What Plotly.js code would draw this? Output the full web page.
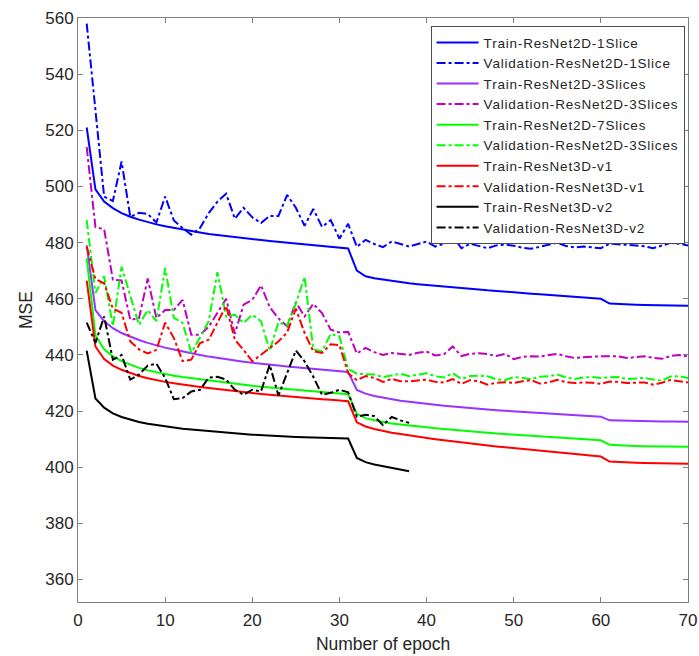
<!DOCTYPE html>
<html>
<head>
<meta charset="utf-8">
<script src="https://cdn.plot.ly/plotly-3.0.1.min.js"></script>
<style>html,body{margin:0;padding:0;background:#fff;}#chart{width:699px;height:656px;}
text.legendtext{letter-spacing:0.8px;}</style>
</head>
<body>
<div id="chart"></div>
<script>
var epochs = [];
for (var i = 1; i <= 70; i++) epochs.push(i);
var epochsV2 = epochs.slice(0, 38);

var trainR2D1 = [521,499,494.6,492.3,490.5,489.2,488.2,487.3,486.5,485.8,485.2,484.6,484.1,483.6,483.1,482.7,482.3,481.9,481.5,481.2,480.9,480.6,480.3,480.0,479.7,479.4,479.1,478.8,478.5,478.2,477.9,470,468,467.3,466.8,466.3,465.9,465.5,465.2,464.9,464.6,464.3,464.0,463.8,463.5,463.3,463.0,462.8,462.5,462.3,462.1,461.8,461.6,461.4,461.1,460.9,460.7,460.5,460.3,460.0,458.3,458.1,458.0,457.9,457.8,457.7,457.7,457.6,457.6,457.5];
var valR2D1 = [558,528,496.4,494.8,508.9,489.2,490.6,490.2,487.2,496.4,487.9,485.2,482.8,485.2,490.5,494.6,497.4,488.5,492.4,489,487,489.5,489.5,497,492.4,486,492,485.6,488,481.4,486.7,478.5,481,479.5,478.4,480.4,479.5,478.6,479.5,480.4,478.6,479.6,482.2,478,479.6,478.8,478,479,479.3,478.9,478.2,477.8,478.5,479.3,480,478.8,478.3,478.6,478.3,478,479.6,479.5,479.2,479,478.7,478,478.9,479.9,479.6,479];
var trainR2D3 = [479,456,452,449.5,447.8,446.5,445.3,444.3,443.4,442.6,441.9,441.2,440.6,440.0,439.4,438.9,438.4,438.0,437.6,437.2,436.8,436.5,436.2,435.9,435.6,435.3,435.0,434.7,434.4,434.1,433.9,427.5,426.2,425.4,424.8,424.2,423.7,423.3,422.9,422.5,422.2,421.9,421.6,421.3,421.0,420.8,420.5,420.3,420.1,419.9,419.7,419.5,419.3,419.1,418.9,418.7,418.5,418.3,418.2,418.0,416.7,416.6,416.5,416.5,416.4,416.4,416.3,416.3,416.2,416.2];
var valR2D3 = [514,485.5,484.8,466.8,466.5,452.5,453.1,467.2,453.1,456,456,459.6,447.2,447.2,450,455,460,447.5,457.9,459.6,464.8,457,453,450.2,458.8,453.7,458.2,454.9,449,448,448.2,440.5,442.5,441,440,440.7,440.3,440,440.8,441.2,439.8,440.2,443,439.6,440.4,440.6,440.3,439.6,440.4,438.5,439.3,439.5,439.4,439.8,440.4,439.5,438.9,439.2,439.4,439.5,439.5,439.5,438.9,439.2,439.5,439.0,438.6,439.6,440,439.5];
var trainR2D7 = [474.5,447,442,439.5,437.8,436.5,435.4,434.5,433.8,433.2,432.6,432.1,431.7,431.2,430.8,430.4,430.0,429.6,429.3,429.0,428.7,428.4,428.1,427.8,427.5,427.3,427.0,426.8,426.5,426.3,426.0,419,417.5,416.7,416.1,415.6,415.2,414.8,414.5,414.2,413.9,413.6,413.3,413.0,412.8,412.5,412.3,412.0,411.8,411.6,411.4,411.2,411.0,410.8,410.6,410.4,410.2,410.0,409.8,409.6,408.0,407.8,407.7,407.6,407.5,407.5,407.4,407.4,407.4,407.3];
var valR2D7 = [488,462,468,450.3,471.4,461.4,450.7,456,452,471,453.2,451.4,440.8,446.2,452,469.5,453.7,454.3,451.4,454.3,452,441.5,451.6,450.5,458.3,467.8,442,441.3,447.5,446.6,435,433.3,433.2,433.0,432.1,432.6,433.3,432.4,433,433.5,432.4,432,433.5,431.4,432.5,432.6,432.4,431.3,431,432.1,431.8,431.4,432.2,432.4,433,432,431.4,432,432.1,431.8,432,432.1,431.4,431.6,431.8,431.2,430.8,432.3,432.4,431.8];
var trainR3D1 = [466.5,443,438.5,436.2,434.7,433.5,432.5,431.7,431.0,430.4,429.9,429.4,429.0,428.6,428.2,427.8,427.4,427.0,426.7,426.4,426.1,425.8,425.5,425.2,425.0,424.7,424.4,424.2,424.0,423.7,423.5,416,414.5,413.6,412.9,412.3,411.8,411.3,410.9,410.5,410.0,409.6,409.2,408.8,408.4,408.0,407.7,407.4,407.1,406.8,406.5,406.2,405.9,405.6,405.3,405.0,404.7,404.4,404.1,403.8,402.0,401.8,401.7,401.6,401.5,401.4,401.4,401.3,401.3,401.2];
var valR3D1 = [478.6,467,465.5,456.5,455,444.8,442,440.5,441.8,451.5,446,437.8,438.3,444.2,445.4,451.5,457.5,445.4,441.8,437.7,440,442.3,444.8,448,456.5,447.8,441.3,440.7,443.8,443.5,433.5,431,432.5,431.8,430.4,431.5,430.6,430.6,431,431.2,430.4,430.2,431.4,429.7,431.0,430.6,429.4,430.1,430.3,430,430.6,431,429.8,430.2,431.1,430.3,430,430.2,430.1,429.7,430.5,430.4,430,430.1,430.2,429.4,430.1,431.1,430.7,430.2];
var trainR3D2 = [441.5,424.5,421.2,419.2,417.9,416.9,416.1,415.5,415.0,414.5,414.1,413.7,413.4,413.1,412.8,412.5,412.2,412.0,411.8,411.6,411.4,411.2,411.0,410.9,410.8,410.7,410.6,410.5,410.4,410.3,410.2,403.3,401.8,401.0,400.4,399.9,399.2,398.6];
var valR3D2 = [451.5,444.3,453.7,438.3,440,431.2,433,436.2,436.9,431.8,424.2,424.6,427,427.6,431.9,432.2,431.2,427.6,425.8,427.6,427,436.5,425.5,433.5,441.6,437.7,432.2,425.8,426.5,427.6,426.7,418,418.7,418.2,415,417.9,416.7,415.8];

var names = ['Train-ResNet2D-1Slice','Validation-ResNet2D-1Slice','Train-ResNet2D-3Slices','Validation-ResNet2D-3Slices','Train-ResNet2D-7Slices','Validation-ResNet2D-3Slices','Train-ResNet3D-v1','Validation-ResNet3D-v1','Train-ResNet3D-v2','Validation-ResNet3D-v2'];
var series = [trainR2D1, valR2D1, trainR2D3, valR2D3, trainR2D7, valR2D7, trainR3D1, valR3D1, trainR3D2, valR3D2];
var colors = ['#0000FF','#0000FF','#9933FF','#C000C0','#00FF00','#00FF00','#FF0000','#FF0000','#000000','#000000'];

var traces = series.map(function(s, k){
  return {
    x: s.length === 70 ? epochs : epochsV2,
    y: s,
    type: 'scatter',
    mode: 'lines',
    name: names[k],
    line: {color: colors[k], width: 2, dash: (k % 2 === 1) ? 'dashdot' : 'solid'}
  };
});

var axisCommon = {
  showline: true, mirror: 'ticks', linecolor: '#7f7f7f', linewidth: 1,
  ticks: 'inside', ticklen: 5, tickcolor: '#7f7f7f',
  showgrid: false, zeroline: false,
  tickfont: {family: 'Liberation Sans, Arial, sans-serif', size: 17, color: '#262626'}
};

var layout = {
  width: 699, height: 656,
  margin: {l: 78, r: 11, t: 18, b: 54},
  paper_bgcolor: '#fff', plot_bgcolor: '#fff',
  font: {family: 'Liberation Sans, Arial, sans-serif', color: '#262626'},
  xaxis: Object.assign({}, axisCommon, {
    range: [0, 70], tick0: 0, dtick: 10, ticklabelstandoff: 3,
    title: {text: 'Number of epoch', font: {size: 17.5, color: '#262626'}, standoff: 8}
  }),
  yaxis: Object.assign({}, axisCommon, {
    range: [352, 560], tick0: 360, dtick: 20,
    title: {text: 'MSE', font: {size: 17.5, color: '#262626'}, standoff: 8}
  }),
  showlegend: true,
  legend: {
    x: 0.578, y: 0.986, xanchor: 'left', yanchor: 'top',
    bgcolor: '#fff', bordercolor: '#4d4d4d', borderwidth: 1,
    font: {family: 'Liberation Sans, Arial, sans-serif', size: 13.5, color: '#262626'},
    tracegroupgap: 0, itemwidth: 42
  }
};

Plotly.newPlot('chart', traces, layout, {displayModeBar: false, staticPlot: true});
</script>
</body>
</html>
